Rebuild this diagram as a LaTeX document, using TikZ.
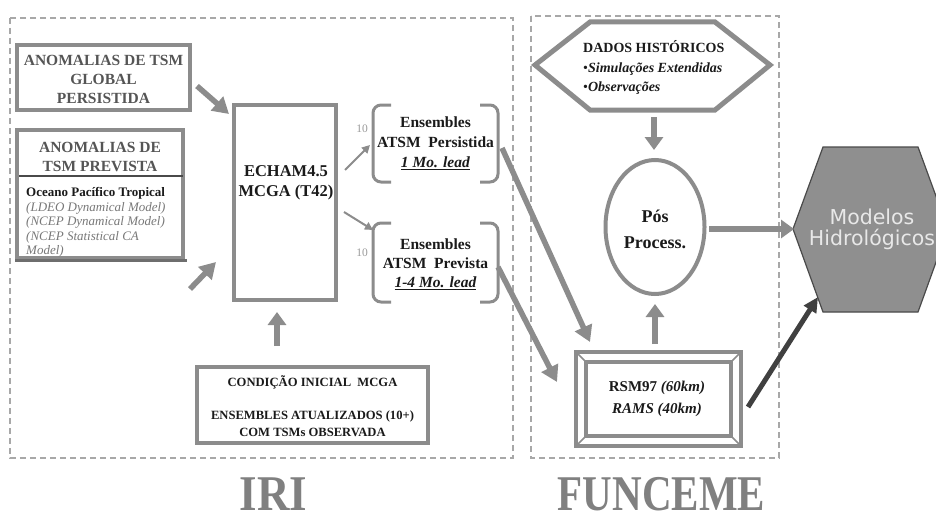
\documentclass[tikz,border=0pt]{standalone}
\usepackage{fontspec}
\setmainfont{Liberation Serif}
\newfontfamily\hydrofont{DejaVu Sans}
\usetikzlibrary{arrows.meta,shapes.geometric,calc}
\definecolor{bordergray}{HTML}{8C8C8C}
\definecolor{dashgray}{HTML}{A8A8A8}
\definecolor{txtdark}{HTML}{1A1A1A}
\definecolor{titlegray}{HTML}{555555}
\definecolor{italgray}{HTML}{787878}
\definecolor{hexfill}{HTML}{8F8F8F}
\definecolor{hexline}{HTML}{4A4A4A}
\definecolor{modtext}{HTML}{E8E8E8}
\definecolor{darkarrow}{HTML}{404040}
\definecolor{biggray}{HTML}{808080}
\definecolor{numgray}{HTML}{9A9A9A}
\begin{document}
\begin{tikzpicture}[x=1pt,y=-1pt,
  frame/.style={draw=dashgray, line width=1.2pt, dash pattern=on 6pt off 4pt},
  thickbox/.style={draw=bordergray, line width=4pt, fill=white, inner sep=0pt},
  txt/.style={text=txtdark, align=center, inner sep=0pt},
  bigarrow/.style={draw=bordergray, line width=5.5pt, -{Triangle[width=18pt,length=16pt]}},
  midarrow/.style={draw=bordergray, line width=6pt, -{Triangle[width=18pt,length=13pt]}},
  thinarrow/.style={draw=bordergray, line width=2pt, -{Triangle[width=8pt,length=8pt]}},
  darkarr/.style={draw=darkarrow, line width=5pt, -{Triangle[width=14pt,length=15pt]}},
  bracket/.style={draw=bordergray, line width=3pt, rounded corners=8pt},
  bigtitle/.style={text=biggray, inner sep=0pt, anchor=base, font=\bfseries\fontsize{50}{56}\selectfont},
]
\useasboundingbox (0,0) rectangle (936,519);
\clip (0,0) rectangle (936,519);
\fill[white] (0,0) rectangle (936,519);

% frames
\draw[frame] (10,18) rectangle (513,458);
\draw[frame] (531,16) rectangle (779,458);

% global persisted SST anomalies
\node[thickbox, minimum width=173pt, minimum height=65pt] (glob) at (103.5,77.5) {};
\node[txt, text=titlegray, font=\bfseries\fontsize{15.5}{19}\selectfont] (globt) at (103.5,79) {ANOMALIAS DE TSM\\GLOBAL\\PERSISTIDA};

% forecast SST anomalies
\node[thickbox, minimum width=166pt, minimum height=128pt] (prev) at (100,194) {};
\draw[draw=hexline!80, line width=3pt] (15,260) -- (187,260);
\node[txt, text=titlegray, font=\bfseries\fontsize{15.5}{19}\selectfont] (prevt) at (100,157) {ANOMALIAS DE\\TSM PREVISTA};
\draw[draw=hexline, line width=1.3pt] (19,176) -- (183,176);
\node[inner sep=0pt, anchor=north west, align=left, text=italgray, font=\fontsize{13}{14.5}\selectfont] (prevb) at (26,187.5)
  {\textbf{\color{txtdark}Oceano Pacífico Tropical}\\\textit{(LDEO Dynamical Model)}\\\textit{(NCEP Dynamical Model)}\\\textit{(NCEP Statistical CA}\\\textit{Model)}};

% ECHAM
\node[thickbox, minimum width=102pt, minimum height=195pt] (echam) at (285,202.5) {};
\node[txt, font=\bfseries\fontsize{16.5}{20}\selectfont] (echamt) at (286,183) {ECHAM4.5\\MCGA (T42)};

% ensembles
\draw[bracket] (391,105) -- (373,105) -- (373,182) -- (391,182);
\draw[bracket] (480,105) -- (498,105) -- (498,182) -- (480,182);
\node[txt, font=\bfseries\fontsize{15.5}{20}\selectfont] (ens1) at (435.5,143) {Ensembles\\ATSM~~Persistida\\\underline{\textit{1 Mo. lead}}};
\draw[bracket] (391,223) -- (373,223) -- (373,302) -- (391,302);
\draw[bracket] (480,223) -- (498,223) -- (498,302) -- (480,302);
\node[txt, font=\bfseries\fontsize{15.5}{19}\selectfont] (ens2) at (435.5,264) {Ensembles\\ATSM~~Prevista\\\underline{\textit{1-4 Mo. lead}}};
\node[inner sep=0pt, text=numgray, font=\fontsize{11.5}{12}\selectfont] (n1) at (362,129) {10};
\node[inner sep=0pt, text=numgray, font=\fontsize{11.5}{12}\selectfont] (n2) at (362,253) {10};

% initial condition
\node[thickbox, minimum width=231pt, minimum height=76pt] (cond) at (312.5,405) {};
\node[txt, font=\bfseries\fontsize{12.6}{16.5}\selectfont] (condt) at (312.5,406) {CONDIÇÃO INICIAL~~MCGA\\[16.5pt]ENSEMBLES ATUALIZADOS (10+)\\COM TSMs OBSERVADA};

% historical data hexagon
\draw[draw=bordergray, line width=5pt, line join=miter, fill=white] (535,65) -- (590,22) -- (715,22) -- (770,65) -- (715,110) -- (590,110) -- cycle;
\node[inner sep=0pt, anchor=west, align=left, text=txtdark, font=\fontsize{14}{19.5}\selectfont] (dados) at (583,67.5)
  {\textbf{DADOS HISTÓRICOS}\\\textbullet\textbf{\textit{Simulações Extendidas}}\\\textbullet\textbf{\textit{Observações}}};

% post processing
\node[draw=bordergray, line width=4pt, ellipse, minimum width=99pt, minimum height=134pt, inner sep=0pt] (post) at (655,227) {};
\node[txt, font=\bfseries\fontsize{18}{25.5}\selectfont] (postt) at (655,229.5) {Pós\\Process.};

% RSM box
\node[thickbox, minimum width=165pt, minimum height=94pt] (rsm) at (658.5,399) {};
\draw[draw=bordergray, line width=4pt] (586,362) rectangle (731,436);
\draw[draw=bordergray, line width=1.5pt] (576,352) -- (586,362) (741,352) -- (731,362) (576,446) -- (586,436) (741,446) -- (731,436);
\node[txt, font=\bfseries\fontsize{15}{22}\selectfont] (rsmt) at (657,399) {RSM97 \textit{(60km)}\\\textit{RAMS (40km)}};

% hydrological models
\draw[fill=hexfill, draw=hexline, line width=1.2pt] (793,229) -- (823,147) -- (918,147) -- (948,229) -- (918,312) -- (823,312) -- cycle;
\node[inner sep=0pt, align=center, text=modtext, font=\hydrofont\fontsize{20.5}{21}\selectfont] (model) at (872,229) {Modelos\\Hidrológicos};

% titles
\node[bigtitle] (iri) at (273.5,510) {\scalebox{0.9}[1]{IRI}};
\node[bigtitle] (funceme) at (661.5,510) {\scalebox{0.82}[1]{FUNCEME}};

% connector end points
\coordinate (a1s) at (197,86);   \coordinate (a1e) at (229,114);
\coordinate (a2s) at (190,289);  \coordinate (a2e) at (216,262);
\coordinate (a3s) at (277,346);  \coordinate (a3e) at (277,312);
\coordinate (a4s) at (345,170);  \coordinate (a4e) at (370,145);
\coordinate (a5s) at (344,212);  \coordinate (a5e) at (373,230);
\coordinate (a6s) at (502,148);  \coordinate (a6e) at (590,342);
\coordinate (a7s) at (498,267);  \coordinate (a7e) at (557,382);
\coordinate (a8s) at (654,117);  \coordinate (a8e) at (654,150);
\coordinate (a9s) at (655,344);  \coordinate (a9e) at (655,304);
\coordinate (a10s) at (709,229); \coordinate (a10e) at (794,229);
\coordinate (a11s) at (748,407); \coordinate (a11e) at (818,297);

\draw[bigarrow] (a1s) -- (a1e);
\draw[bigarrow] (a2s) -- (a2e);
\draw[midarrow] (a3s) -- (a3e);
\draw[thinarrow] (a4s) -- (a4e);
\draw[thinarrow] (a5s) -- (a5e);
\draw[bigarrow] (a6s) -- (a6e);
\draw[bigarrow] (a7s) -- (a7e);
\draw[midarrow] (a8s) -- (a8e);
\draw[midarrow] (a9s) -- (a9e);
\draw[midarrow] (a10s) -- (a10e);
\draw[darkarr] (a11s) -- (a11e);
\end{tikzpicture}
\end{document}
